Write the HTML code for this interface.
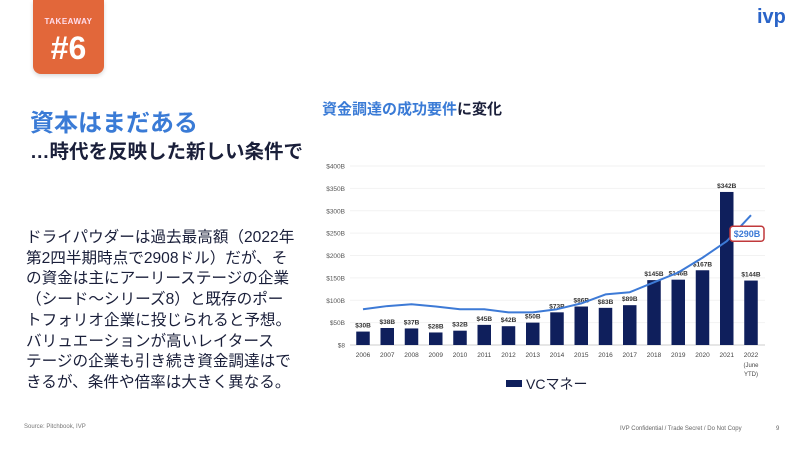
<!DOCTYPE html>
<html><head><meta charset="utf-8"><style>
body{margin:0;width:800px;height:450px;background:#fff;overflow:hidden;position:relative;font-family:"Liberation Sans","Noto Sans CJK JP",sans-serif}
.a{position:absolute;white-space:nowrap}
</style></head><body>
<div class="a" style="left:33px;top:0;width:71px;height:74px;background:#e2673a;border-radius:0 0 8px 8px;box-shadow:0 2px 4px rgba(0,0,0,0.15)">
<div class="a" style="left:0;width:71px;top:17px;text-align:center;color:#fde;font-size:8px;font-weight:bold;letter-spacing:0.5px">TAKEAWAY</div>
<div class="a" style="left:0;width:71px;top:30px;text-align:center;color:#fff;font-size:32px;font-weight:bold">#6</div>
</div>
<div class="a" style="left:757px;top:6px;color:#2a64c8;font-size:20px;font-weight:bold">ivp</div>
<div class="a" style="left:30px;top:103px;color:#3a7bd6;font-size:24px;font-weight:bold">資本はまだある</div>
<div class="a" style="left:30px;top:135px;color:#1a1f3a;font-size:19.5px;font-weight:bold">…時代を反映した新しい条件で</div>
<div class="a" style="left:26px;top:228px;color:#1a1f3a;font-size:15.6px;line-height:20.7px">ドライパウダーは過去最高額（2022年<br>第2四半期時点で2908ドル）だが、そ<br>の資金は主にアーリーステージの企業<br>（シード～シリーズ8）と既存のポー<br>トフォリオ企業に投じられると予想。<br>バリュエーションが高いレイタース<br>テージの企業も引き続き資金調達はで<br>きるが、条件や倍率は大きく異なる。</div>
<div class="a" style="left:24px;top:424px;color:#777;font-size:6px">Source: Pitchbook, IVP</div>
<div class="a" style="left:620px;top:426px;color:#666;font-size:6px">IVP Confidential / Trade Secret / Do Not Copy</div>
<div class="a" style="left:776px;top:426px;color:#666;font-size:6px">9</div>
<div class="a" style="left:322px;top:98px;font-size:15px;font-weight:bold;color:#1a1f3a"><span style="color:#3a7bd6">資金調達の成功要件</span>に変化</div>
<svg class="a" id="chart" style="left:0;top:0" width="800" height="450"></svg>
<script>
const years=["2006","2007","2008","2009","2010","2011","2012","2013","2014","2015","2016","2017","2018","2019","2020","2021","2022"];
const vcMoney=[30,38,37,28,32,45,42,50,73,86,83,89,145,146,167,342,144];
const trend=[80,87,91,86,80,80,73,73,80,93,113,118,140,162,195,232,290];
const yTicks=[0,50,100,150,200,250,300,350,400];
const yTickLabels=["$8","$50B","$100B","$150B","$200B","$250B","$300B","$350B","$400B"];
const NS="http://www.w3.org/2000/svg";
const svg=document.getElementById('chart');
const y=v=>345-v*(179/400);
const x=i=>363+i*24.25;
function mk(t,a){const e=document.createElementNS(NS,t);for(const k in a)e.setAttribute(k,a[k]);svg.appendChild(e);return e;}
yTicks.forEach((t,i)=>{
 const g=mk('line',{x1:350,x2:765,y1:y(t),y2:y(t),stroke:i==0?'#ccc':'#f2f2f2','stroke-width':1});
 
 
 const l=mk('text',{x:345,y:y(t)+2.5,'text-anchor':'end','font-size':6.5,fill:'#555'});
 l.textContent=yTickLabels[i];
 
 
});
years.forEach((yr,i)=>{
 const b=mk('rect',{x:x(i)-6.75,y:y(vcMoney[i]),width:13.5,height:y(0)-y(vcMoney[i]),fill:'#0f1f5c'});
 
 
 const v=mk('text',{x:x(i),y:y(vcMoney[i])-4,'text-anchor':'middle','font-size':6.5,'font-weight':'bold',fill:'#333'});
 v.textContent='$'+vcMoney[i]+'B';
 
 
 const t=mk('text',{x:x(i),y:357,'text-anchor':'middle','font-size':6.5,fill:'#444'});
 t.textContent=yr;
 
 
});
const ex1=mk('text',{x:x(16),y:367,'text-anchor':'middle','font-size':6,fill:'#444'});ex1.textContent='(June';


const ex2=mk('text',{x:x(16),y:376,'text-anchor':'middle','font-size':6,fill:'#444'});ex2.textContent='YTD)';


let d='';trend.forEach((v,i)=>{d+=(i?'L':'M')+x(i)+','+y(v);});
const ln=mk('path',{d:d,fill:'none',stroke:'#3d7ad6','stroke-width':2,'stroke-linejoin':'round'});


const cb=mk('rect',{x:730,y:y(trend[16])+11,width:34,height:15,rx:3,fill:'#fff',stroke:'#c0393b','stroke-width':1.5});


const ct=mk('text',{x:747,y:y(trend[16])+22,'text-anchor':'middle','font-size':9,'font-weight':'bold',fill:'#3d7ad6'});
ct.textContent='$'+trend[16]+'B';


const lg=mk('rect',{x:506,y:380,width:16,height:7,fill:'#0f1f5c'});


const lt=mk('text',{x:526,y:389,'font-size':14,fill:'#1a1f3a'});lt.textContent='VCマネー';


</script>
</body></html>
